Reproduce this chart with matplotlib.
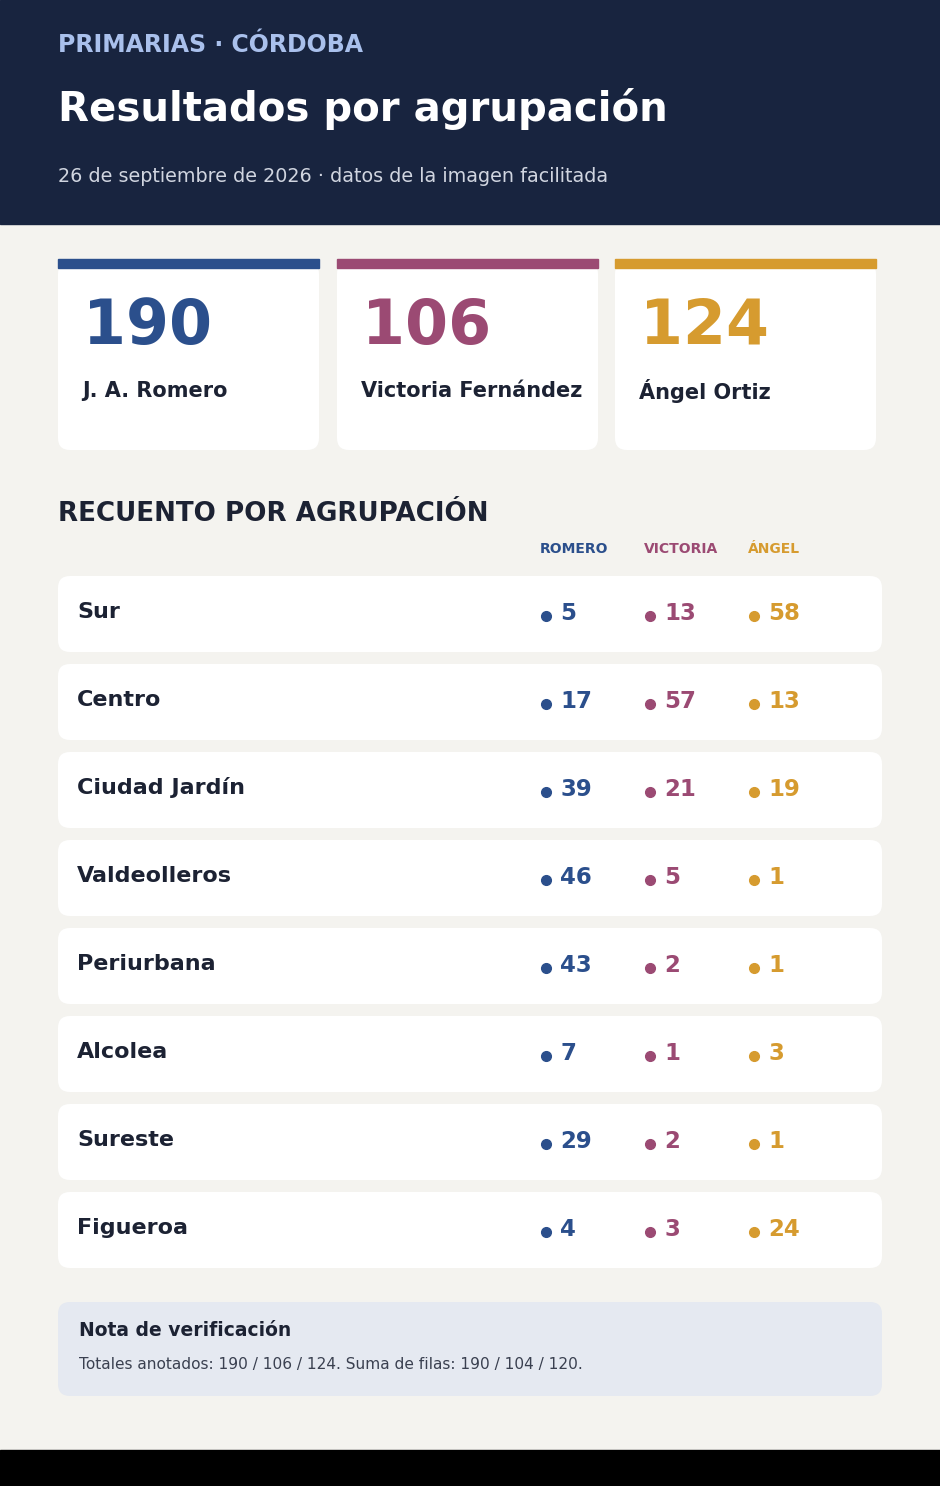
import matplotlib
matplotlib.use("Agg")
import matplotlib.pyplot as plt
from matplotlib.patches import FancyBboxPatch, Rectangle

plt.rcParams['font.family'] = ['DejaVu Sans']

candidates = ["J. A. Romero", "Victoria Fernández", "Ángel Ortiz"]
totals = [190, 106, 124]
col_headers = ["ROMERO", "VICTORIA", "ÁNGEL"]
groups = ["Sur", "Centro", "Ciudad Jardín", "Valdeolleros", "Periurbana", "Alcolea", "Sureste", "Figueroa"]
romero = [5, 17, 39, 46, 43, 7, 29, 4]
victoria = [13, 57, 21, 5, 2, 1, 2, 3]
angel = [58, 13, 19, 1, 1, 3, 1, 24]
colors = ["#2b4f8c", "#9b4a73", "#d69b2f"]

fig = plt.figure(figsize=(9.4, 14.86), dpi=100)
ax = fig.add_axes([0, 0, 1, 1])
ax.set_xlim(0, 940); ax.set_ylim(1486, 0); ax.axis('off')
fig.patch.set_facecolor("#f4f3ef")

ax.add_patch(Rectangle((0, 0), 940, 224, color="#18243f"))
ax.add_patch(Rectangle((0, 1450), 940, 36, color="black"))
ax.text(58, 45, "PRIMARIAS · CÓRDOBA", color="#a9c0ec", fontsize=17, weight='bold', va='center')
ax.text(58, 109, "Resultados por agrupación", color="white", fontsize=29, weight='bold', va='center')
ax.text(58, 176, "26 de septiembre de 2026 · datos de la imagen facilitada", color="#d0d5e0", fontsize=13.8, va='center')

def rbox(x, y, w, h, fc, r=12):
    ax.add_patch(FancyBboxPatch((x + r, y + r), w - 2 * r, h - 2 * r,
                                boxstyle=f"round,pad={r}", fc=fc, ec='none'))

card_x = [58, 337, 615]
for i, cx in enumerate(card_x):
    rbox(cx, 262, 261, 188, "white")
    ax.add_patch(Rectangle((cx, 259), 261, 9, color=colors[i]))
    ax.text(cx + 25, 327, str(totals[i]), color=colors[i], fontsize=44.5, weight='bold', va='center')
    ax.text(cx + 24, 391, candidates[i], color="#1c2233", fontsize=15, weight='bold', va='center')

ax.text(58, 514, "RECUENTO POR AGRUPACIÓN", color="#1c2233", fontsize=18.8, weight='bold', va='center')
col_x = [540, 644, 748]
for j, h in enumerate(col_headers):
    ax.text(col_x[j], 549, h, color=colors[j], fontsize=10, weight='bold', va='center')

for i, g in enumerate(groups):
    yc = 613 + 88 * i
    rbox(58, yc - 37, 824, 76, "white")
    ax.text(77, yc - 1, g, color="#1c2233", fontsize=16, weight='bold', va='center')
    for j, vals in enumerate([romero, victoria, angel]):
        ax.plot(col_x[j] + 6, yc + 3, 'o', color=colors[j], ms=7)
        ax.text(col_x[j] + 20, yc, str(vals[i]), color=colors[j], fontsize=16.5, weight='bold', va='center')

rbox(58, 1302, 824, 94, "#e5e9f1")
ax.text(79, 1331, "Nota de verificación", color="#1c2233", fontsize=13.5, weight='bold', va='center')
ax.text(79, 1365, f"Totales anotados: {totals[0]} / {totals[1]} / {totals[2]}. Suma de filas: "
        f"{sum(romero)} / {sum(victoria)} / {sum(angel)}.", color="#3a4050", fontsize=11.1, va='center')

fig.savefig("out.png", dpi=100, facecolor=fig.get_facecolor())
